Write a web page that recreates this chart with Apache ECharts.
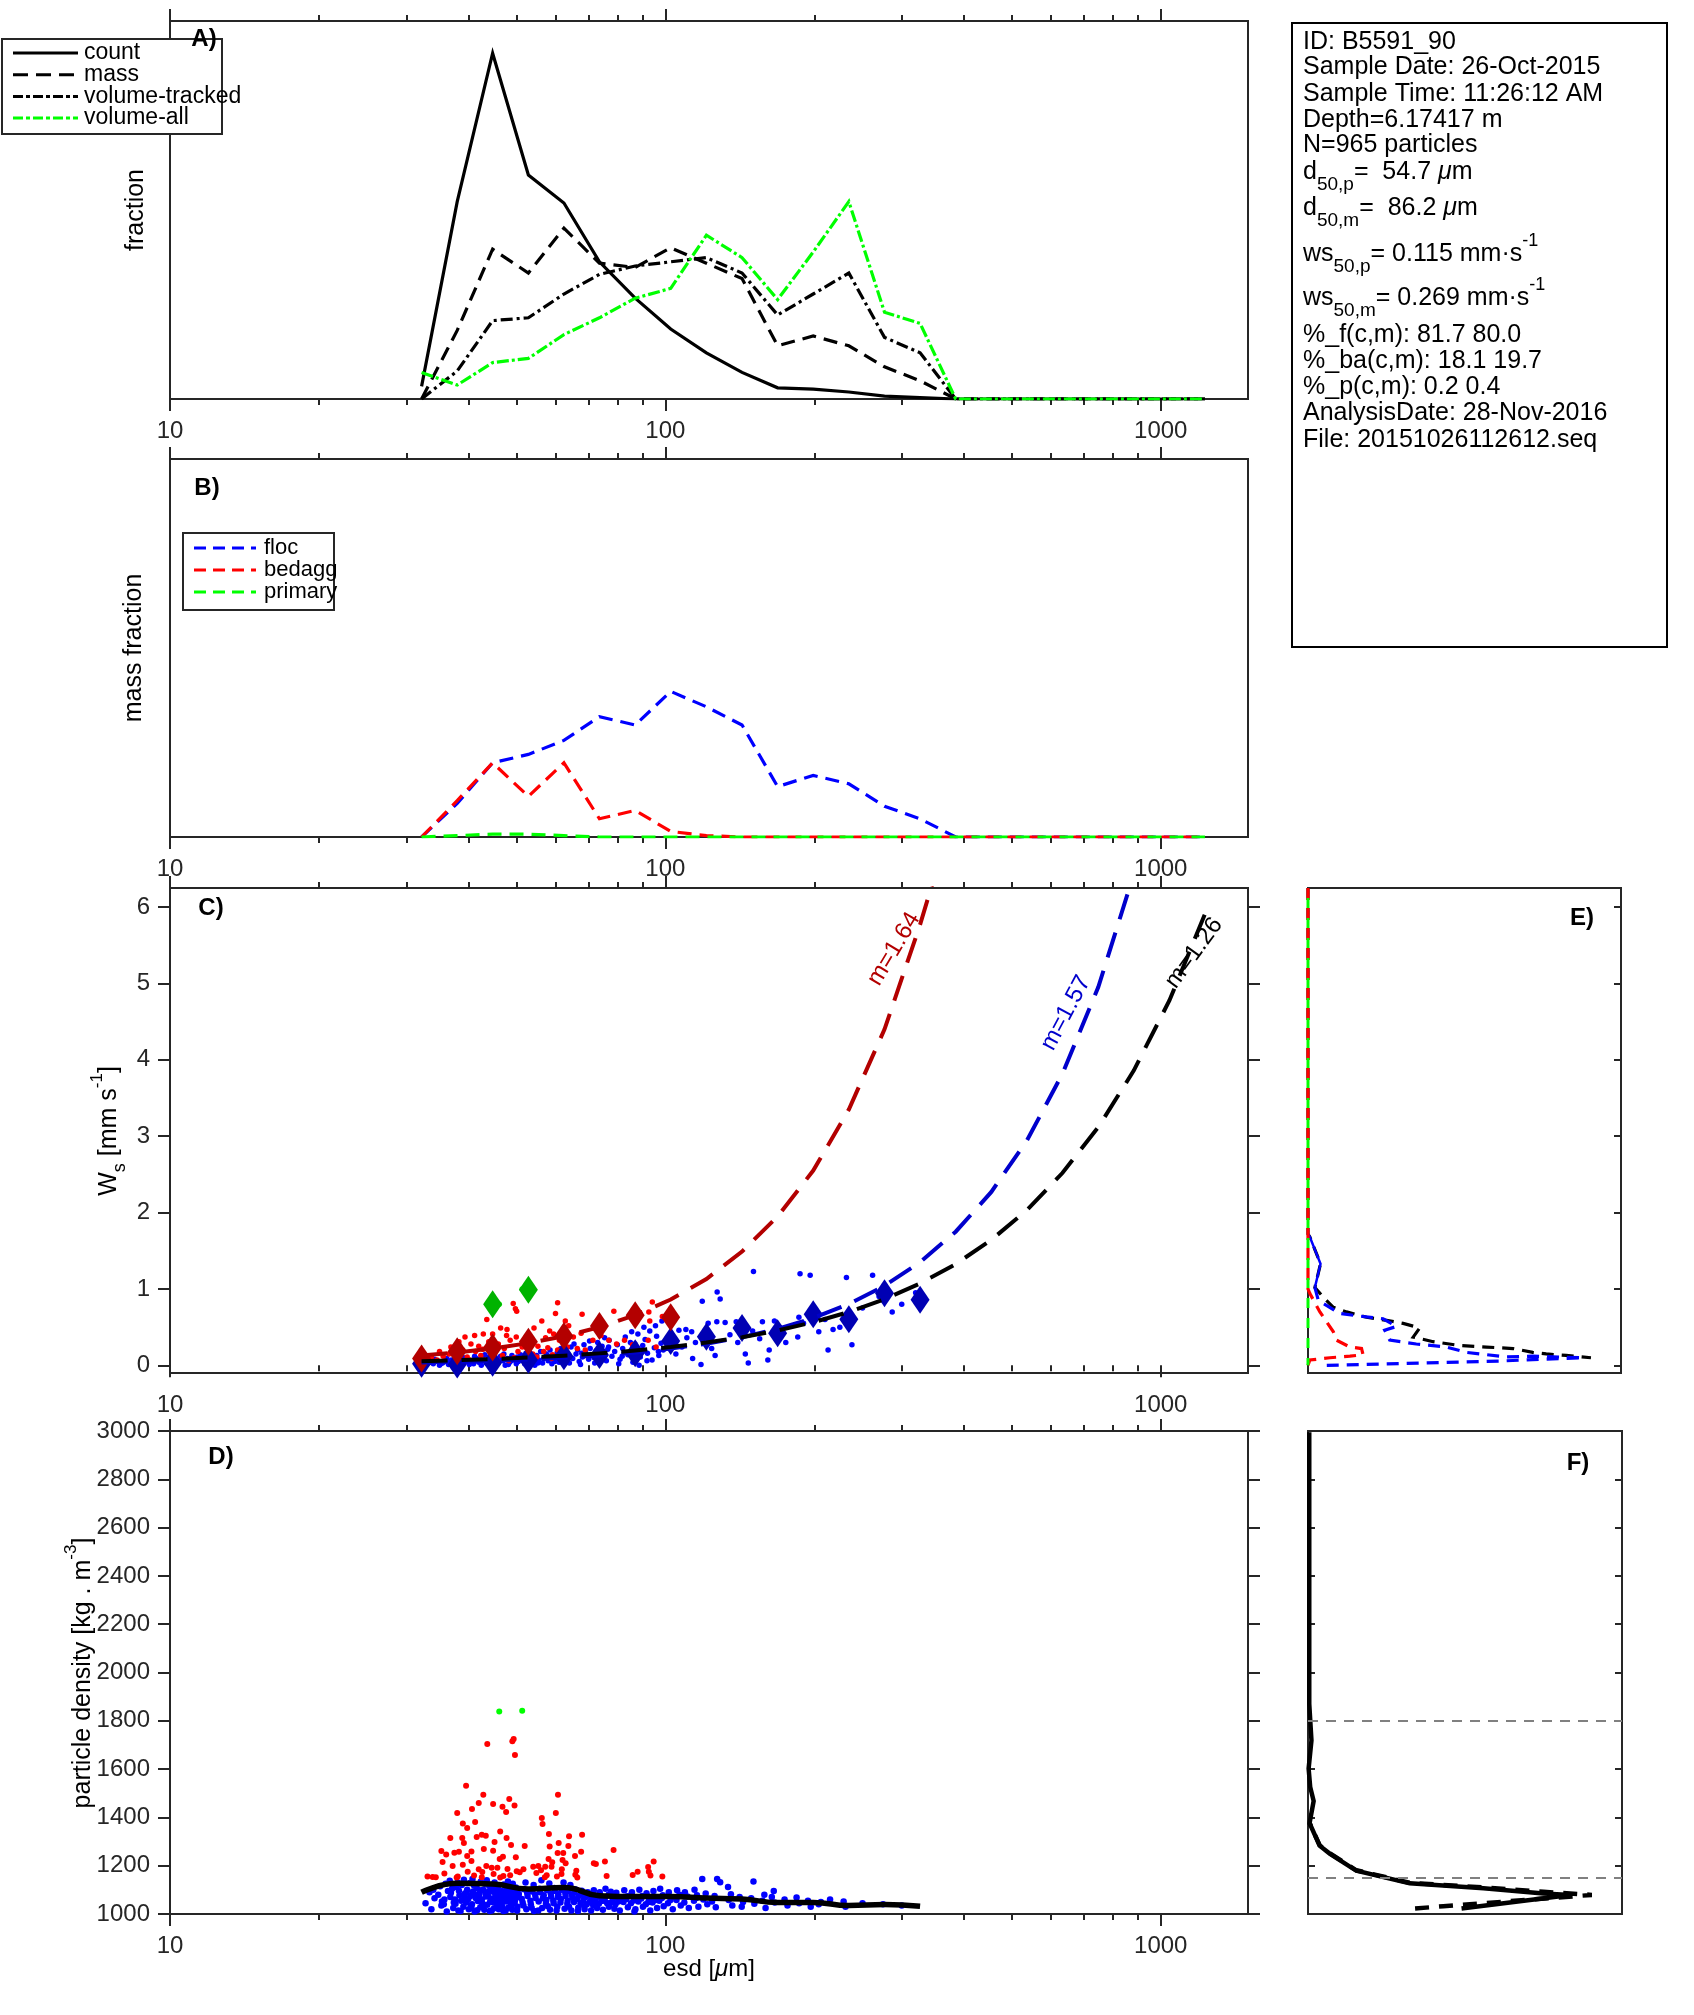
<!DOCTYPE html>
<html><head><meta charset="utf-8">
<script src="https://cdn.jsdelivr.net/npm/echarts@6/dist/echarts.min.js"></script>
<style>html,body{margin:0;padding:0;background:#fff}#c{width:1694px;height:2015px}</style>
</head><body><div id="c"></div>
<script>
// ---------------- DATA ----------------
const esdBins = [32.2,38.0,44.8,52.9,62.4,73.6,86.9,102.5,121.0,142.8,168.5,198.8,234.6,276.9,326.7,385.5,455,537,633,748,882,1041,1228];
// Panel A (fraction)
const fracCount      = [0.009,0.141,0.247,0.160,0.140,0.098,0.072,0.050,0.033,0.019,0.008,0.007,0.005,0.002,0.001,0,0,0,0,0,0,0,0];
const fracMass       = [0,0.049,0.107,0.090,0.122,0.097,0.094,0.108,0.097,0.086,0.038,0.045,0.038,0.023,0.013,0,0,0,0,0,0,0,0];
const fracVolTracked = [0,0.020,0.056,0.058,0.075,0.089,0.095,0.098,0.101,0.090,0.060,0.075,0.090,0.044,0.033,0,0,0,0,0,0,0,0];
const fracVolAll     = [0.019,0.010,0.026,0.029,0.046,0.058,0.072,0.079,0.117,0.101,0.071,0.105,0.141,0.062,0.054,0,0,0,0,0,0,0,0];
// Panel B (mass fraction)
const massFloc    = [0,0.024,0.053,0.059,0.069,0.086,0.080,0.104,0.093,0.080,0.036,0.044,0.038,0.022,0.013,0,0,0,0,0,0,0,0];
const massBedagg  = [0,0.026,0.053,0.029,0.053,0.013,0.019,0.004,0.001,0,0,0,0,0,0,0,0,0,0,0,0,0,0];
const massPrimary = [0,0.001,0.002,0.002,0.001,0,0,0,0,0,0,0,0,0,0,0,0,0,0,0,0,0,0];
// Panel C: bin medians of settling velocity (mm/s)
const wsMedFloc   = [0.02,0.01,0.035,0.075,0.12,0.135,0.16,0.32,0.375,0.49,0.42,0.67,0.605,0.945,0.86];
const wsMedBedagg = [0.09,0.185,0.235,0.31,0.385,0.515,0.655,0.63];
const esdMedPrimary = [44.8,52.9];
const wsMedPrimary  = [0.80,0.99];
// Panel C: fitted curves read at the bins
const wsFitBedagg = [0.129,0.170,0.222,0.291,0.382,0.50,0.658,0.862,1.13,1.49,1.95,2.55,3.35,4.40,5.77,7.33];
const wsFitFloc   = [0.036,0.046,0.060,0.077,0.100,0.130,0.169,0.219,0.284,0.368,0.478,0.619,0.803,1.042,1.351,1.750,2.271,2.946,3.816,4.953,6.43];
const wsFitAll    = [0.054,0.067,0.083,0.102,0.127,0.157,0.194,0.240,0.298,0.368,0.456,0.564,0.699,0.866,1.072,1.326,1.643,2.035,2.518,3.119,3.859,4.777,5.910];
const fitLabels = ['m=1.64','m=1.57','m=1.26'];
// Panel C: particles [esd, ws]
const flocPtsC = [[33,0.01],[33.5,0.04],[34,0.02],[34.5,0.06],[35,0.0],[35.5,0.03],[36,0.05],[36.5,0.01],[37,0.07],[37.5,0.03],[38,0.0],[38.5,0.05],[39,0.02],[39.5,0.08],[40,0.04],[40.2,0.01],[36.2,0.09],[38.2,0.06],[34.2,0.08],[39.2,0.10],
[40.5,0.06],[41,0.02],[41.5,0.09],[42,0.04],[42.5,0.0],[43,0.07],[43.5,0.03],[44,0.11],[44.5,0.05],[45,0.01],[45.5,0.08],[46,0.03],[46.5,0.12],[47,0.06],[47.5,0.0],[48,0.09],[48.5,0.04],[49,0.13],[49.5,0.07],[50,0.02],[41.2,0.12],[43.2,0.14],[45.2,0.13],[47.2,0.15],[49.2,0.1],[42.2,0.08],[44.2,0.02],[46.2,0.06],[48.2,0.01],[50.2,0.11],
[50.5,0.05],[51,0.14],[51.5,0.08],[52,0.02],[52.5,0.11],[53,0.17],[53.5,0.05],[54,0.09],[54.5,0.0],[55,0.13],[55.5,0.07],[56,0.18],[56.5,0.03],[57,0.1],[57.5,0.15],[58,0.06],[58.5,0.2],[59,0.02],[59.5,0.12],[60,0.08],[60.5,0.17],[61,0.04],[61.5,0.22],[62,0.1],[52.3,0.16],[55.3,0.03],[58.3,0.12],[61.3,0.14],
[62.5,0.06],[63,0.18],[63.5,0.12],[64,0.03],[64.5,0.24],[65,0.09],[66,0.15],[66.5,0.2],[67,0.05],[68,0.11],[68.5,0.27],[69,0.17],[70,0.08],[70.5,0.22],[71,0.13],[72,0.03],[72.5,0.19],[73,0.3],[74,0.1],[74.5,0.25],[75,0.15],[76,0.06],[76.5,0.21],[77,0.33],[78,0.12],[65.4,0.28],[70.3,0.32],[75.4,0.36],[67.4,0.01],[73.4,0.04],
[79,0.18],[80,0.27],[81,0.08],[82,0.22],[83,0.37],[84,0.14],[85,0.3],[86,0.04],[87,0.2],[88,0.41],[89,0.11],[90,0.26],[91,0.34],[92,0.16],[93,0.45],[94,0.07],[95,0.23],[96,0.38],[97,0.13],[98,0.29],[80.5,0.02],[85.5,0.44],[90.5,0.5],[95.5,0.52],[88.5,0.0],
[33.8,0.05],[35.2,0.02],[36.8,0.04],[38.8,0.03],[40.8,0.05],[42.8,0.06],[44.8,0.04],[46.8,0.09],[48.8,0.06],[50.8,0.1],[53.8,0.12],[56.8,0.09],[59.8,0.05],[63.8,0.14],[67.8,0.16],[71.8,0.1],[76.8,0.24],[81.8,0.12],[86.8,0.28],[91.8,0.06],[96.8,0.18],
[98.4,0.58],[99.5,0.64],[99,0.2],[104,0.33],[106.5,0.46],[108,0.24],[110,0.47],[113,0.44],[113.5,0.09],[118,0.01],[118.7,0.84],[122,0.55],[126,0.13],[127.2,0.96],[127,0.57],[129,0.87],[132,0.56],[139,0.57],[145,0.15],[147,0.03],[150.6,1.23],[157,0.57],[161,0.07],[162,0.2],[166,0.58],[185,0.37],[186,0.63],[187,1.2],[196,1.18],[204,0.44],[213,0.2],[218,0.47],[232,1.15],[238,0.27],[262,1.18],[287,0.7],[102,0.28],[105,0.15],[110.5,0.36],[115,0.3],[120,0.4],[124,0.22],[135,0.4],[140,0.3],[150,0.45],[155,0.35],[170,0.5],[175,0.3],[190,0.55],[200,0.65],[210,0.6],[225,0.5],[250,0.75],[270,0.9],[300,0.8],[320,0.95]];
const bedaggPtsC = [[43.6,0.60],[49.3,0.81],[49.8,0.74],[50.1,0.71],[60.6,0.82],[60.0,0.68],[67.9,0.67],[78.7,0.71],[94.1,0.83],[92.6,0.70],[93.0,0.58],[98.6,0.64],[46.5,0.49],[47.9,0.47],[56.3,0.58],[62.8,0.58],[63.8,0.52],[58.4,0.45],
[39.4,0.37],[41.2,0.39],[42.9,0.41],[44.8,0.41],[47.8,0.39],[50.0,0.37],[51.9,0.33],[54.3,0.49],[57.3,0.36],[59.5,0.41],[61.1,0.33],[65.2,0.37],[67.6,0.42],[71.4,0.33],[74.1,0.39],[76.9,0.33],[79.7,0.28],[82.7,0.33],[85.8,0.27],[92.3,0.33],[95.8,0.24],
[36.9,0.24],[38.3,0.31],[40.5,0.28],[42.0,0.25],[44.0,0.31],[46.0,0.28],[48.6,0.33],[51.4,0.24],[53.3,0.28],[55.3,0.25],[57.9,0.23],[60.6,0.20],[63.4,0.24],[66.4,0.22],[68.9,0.20],
[35.0,0.18],[36.6,0.15],[39.0,0.20],[41.4,0.18],[42.8,0.21],[45.2,0.16],[47.3,0.22],[50.4,0.18],[54.0,0.15],[56.8,0.18],[59.2,0.14],[62.5,0.16],[69.2,0.13],[74.4,0.15],
[33.7,0.11],[35.6,0.12],[37.6,0.13],[39.8,0.11],[42.4,0.13],[44.4,0.11],[46.9,0.13],[49.5,0.10],[52.3,0.13],[55.0,0.11],[58.9,0.09],
[33.1,0.07],[34.6,0.07],[40.3,0.07],[43.2,0.07],[45.7,0.07],[48.3,0.06]];
const primaryPtsC = [[46.2,0.80],[51.4,1.00]];
// Panel D: particles [esd, density]
const flocPtsD = [[32.8,1045],[33.4,1090],[33.7,1020],[34.2,1065],[34.0,1100],[35.3,1035],[34.8,1080],[35.1,1115],[35.4,1052],
[36.2,1010],[35.8,1060],[36.4,1095],[36.0,1125],[35.7,1040],[37.3,1025],[36.8,1070],[37.1,1105],[36.7,1138],[37.4,1048],[36.9,1088],
[38.2,1015],[37.7,1042],[38.4,1078],[37.9,1112],[38.1,1130],[37.6,1060],[38.3,1096],[39.1,1030],[38.7,1055],[39.4,1085],[38.8,1120],[39.2,1142],[38.6,1012],[39.3,1068],
[40.1,1020],[39.6,1048],[40.4,1075],[39.8,1100],[40.3,1128],[40.0,1062],[39.7,1090],[40.5,1035],[41.2,1010],[40.7,1040],[41.4,1066],[40.9,1093],[41.1,1118],[40.8,1145],[41.3,1080],[40.6,1026],
[42.3,1028],[41.8,1054],[42.1,1083],[41.6,1108],[42.4,1135],[41.7,1016],[42.0,1070],[42.2,1098],[43.1,1018],[42.7,1045],[43.4,1072],[42.9,1100],[43.2,1125],[42.6,1060],[43.3,1088],[42.8,1035],
[44.2,1012],[43.7,1038],[44.4,1064],[43.9,1091],[44.1,1116],[43.6,1140],[44.3,1052],[43.8,1078],[45.1,1024],[44.7,1050],[45.4,1077],[44.8,1104],[45.2,1130],[44.6,1015],[45.3,1066],[44.9,1092],
[46.2,1033],[45.7,1058],[46.4,1085],[45.9,1112],[46.1,1020],[45.6,1045],[46.3,1072],[45.8,1098],[47.1,1012],[46.7,1040],[47.4,1068],[46.8,1095],[47.2,1122],[46.6,1054],[47.3,1082],[46.9,1028],
[48.2,1026],[47.7,1052],[48.4,1079],[47.9,1106],[48.1,1135],[47.6,1015],[48.3,1064],[47.8,1090],[49.1,1018],[48.7,1044],[49.4,1071],[48.8,1098],[49.2,1125],[48.6,1058],[49.3,1085],[48.9,1032],
[50.3,1030],[49.7,1056],[50.6,1083],[49.9,1110],[50.2,1014],[49.6,1045],[50.5,1070],[50.0,1096],[52.4,1020],[51.5,1048],[52.7,1075],[51.8,1102],[52.2,1130],[51.3,1062],[52.6,1088],[51.7,1035],
[54.3,1012],[53.5,1040],[54.7,1066],[53.8,1093],[54.2,1120],[53.4,1055],[54.6,1080],[53.7,1026],[56.4,1025],[55.5,1052],[56.8,1078],[55.7,1105],[56.2,1140],[55.4,1015],[56.6,1065],[55.9,1090],
[58.5,1018],[57.4,1045],[58.8,1072],[57.7,1099],[58.3,1126],[57.5,1058],[58.7,1085],[57.9,1032],[60.5,1030],[59.4,1056],[60.8,1082],[59.7,1108],[60.3,1014],[59.5,1044],[60.7,1070],[59.9,1095],
[62.6,1022],[61.4,1048],[62.9,1075],[61.7,1100],[62.3,1130],[61.5,1062],[62.8,1088],[64.6,1015],[63.4,1042],[64.9,1068],[63.7,1094],[64.3,1120],[63.5,1055],[64.8,1080],[63.9,1030],
[66.7,1026],[65.4,1050],[66.9,1076],[65.7,1102],[66.3,1062],[65.5,1088],[66.6,1012],[68.7,1020],[67.4,1045],[68.9,1070],[67.8,1096],[68.3,1058],[67.5,1082],[68.6,1032],
[70.8,1015],[69.4,1040],[70.9,1065],[69.7,1090],[70.4,1052],[69.5,1078],[72.8,1025],[71.4,1048],[72.9,1072],[71.7,1098],[72.3,1060],[71.5,1036],
[74.8,1018],[73.4,1042],[74.9,1066],[73.7,1090],[74.3,1054],[73.5,1078],[76.9,1030],[75.4,1055],[76.8,1080],[75.7,1105],[76.3,1045],[75.5,1068],
[78.9,1022],[77.4,1046],[78.7,1070],[77.6,1092],[78.3,1058],[80.9,1015],[79.3,1040],[80.8,1064],[79.6,1088],[80.4,1052],[79.5,1076],
[84.0,1028],[82.3,1050],[83.8,1074],[82.6,1098],[83.4,1062],[87.0,1020],[85.2,1044],[86.8,1068],[85.6,1090],[86.3,1056],[85.4,1080],[86.6,1010],
[90.1,1030],[88.2,1052],[89.8,1075],[88.6,1100],[89.4,1064],[93.2,1015],[91.3,1040],[92.8,1062],[91.6,1086],[92.4,1050],
[96.2,1025],[94.2,1048],[95.8,1070],[94.6,1095],[95.4,1058],[99.2,1032],[97.2,1055],[98.8,1078],[97.6,1105],[98.4,1066],
[103.5,1020],[101.2,1045],[102.8,1068],[101.6,1090],[102.4,1058],[107.4,1035],[105.3,1058],[106.8,1080],[105.6,1098],
[111.5,1025],[109.2,1048],[110.8,1072],[109.5,1090],[116.6,1030],[114.2,1055],[115.8,1078],[114.5,1100],[115.4,1066],
[121.5,1040],[119.3,1060],[120.6,1085],[118.7,1145],[126.4,1028],[124.2,1052],[125.7,1075],[127.2,1145],[129.0,1131],
[136.5,1035],[134.2,1058],[135.6,1082],[133.8,1112],[143.5,1050],[141.2,1070],[142.6,1030],[151.2,1042],[149.0,1065],[150.6,1135],
[159.3,1025],[157.0,1055],[158.4,1080],[166.2,1048],[164.0,1070],[165.5,1095],[176.4,1035],[174.0,1060],[186.2,1045],[184.0,1068],
[196.5,1030],[194.0,1055],[206.0,1050],[204.0,1040],[215.0,1060],[231.0,1030],[229.0,1052],[250.0,1045],[275.0,1040],[300.0,1035]];
const bedaggPtsD = [[39.6,1531],[42.9,1494],[43.7,1704],[49.1,1715],[49.4,1725],[49.7,1658],[48.4,1476],[49.6,1449],[44.9,1455],[42.0,1460],[40.7,1435],[47.7,1422],[46.9,1444],[60.7,1494],[60.1,1418],[56.3,1397],[56.5,1373],
[38.0,1418],[39.0,1375],[39.8,1356],[41.3,1381],[36.8,1315],[38.9,1315],[39.2,1294],[41.6,1319],[42.6,1328],[43.4,1324],[46.4,1342],[47.8,1315],[45.2,1298],[48.8,1286],[52.0,1282],[58.2,1331],[60.9,1294],[63.9,1322],[67.9,1328],[58.4,1280],[63.7,1282],[67.6,1258],[78.6,1265],
[35.3,1261],[36.1,1246],[37.5,1254],[38.3,1258],[40.6,1259],[39.8,1240],[43.0,1269],[44.9,1262],[46.3,1228],[47.0,1237],[49.9,1235],[60.6,1253],[62.2,1253],[65.7,1240],[58.1,1228],[59.1,1214],[62.0,1224],[62.9,1210],
[35.5,1215],[37.2,1199],[39.0,1204],[40.6,1219],[42.0,1185],[43.5,1199],[44.6,1192],[45.8,1192],[48.0,1186],[50.8,1173],[54.1,1196],[55.4,1199],[57.2,1196],[58.9,1196],[61.8,1185],[66.1,1179],[71.7,1210],[72.4,1207],[75.5,1217],
[35.8,1168],[38.1,1155],[39.9,1175],[41.1,1159],[42.7,1174],[45.0,1166],[47.1,1157],[48.6,1160],[50.1,1177],[51.7,1185],[54.9,1170],[56.1,1181],[57.6,1160],[60.4,1155],[61.7,1166],[65.8,1163],[76.1,1157],[85.9,1161],[87.9,1175],[92.3,1195],[94.7,1217],[92.6,1175],[93.3,1159],[98.6,1155],
[33.1,1155],[33.9,1153],[34.4,1152],[37.9,1151],[42.6,1152],[46.4,1151],[57.1,1152],[66.4,1151]];
const primaryPtsD = [[46.2,1838],[51.4,1842]];
const rhoMean = [1090,1127,1124,1104,1110,1076,1072,1072,1066,1062,1048,1048,1035,1039,1032];
// Panel E: distributions of settling velocity [fraction, ws]
const eAllDashed  = [[0,6.25],[0,1.72],[0.006,1.68],[0.04,1.33],[0.022,1.02],[0.054,0.87],[0.081,0.76],[0.123,0.70],[0.187,0.63],[0.251,0.59],[0.304,0.55],[0.357,0.49],[0.336,0.37],[0.40,0.31],[0.485,0.26],[0.57,0.24],[0.655,0.22],[0.718,0.17],[0.761,0.15],[0.825,0.13],[0.904,0.10]];
const eFlocSolid  = [[0,1.72],[0.006,1.68],[0.04,1.33],[0.022,1.02]];
const eFlocDashed = [[0.022,1.02],[0.033,0.85],[0.102,0.68],[0.155,0.65],[0.24,0.61],[0.283,0.51],[0.245,0.46],[0.261,0.33],[0.346,0.28],[0.442,0.24],[0.506,0.17],[0.57,0.14],[0.633,0.11],[0.718,0.12],[0.878,0.10],[0.612,0.057],[0.06,0.0]];
const eBedaggDashed = [[0,6.25],[0,1.0],[0.006,0.94],[0.038,0.70],[0.081,0.44],[0.091,0.33],[0.134,0.24],[0.171,0.22],[0.176,0.14],[0.134,0.12],[0.07,0.10],[0.006,0.07],[0,0.0]];
const ePrimaryDashed = [[0,6.25],[0,0]];
// Panel F: distributions of density [fraction, density]
const fSolid  = [[0.004,2995],[0.004,1870],[0.011,1719],[0.002,1602],[0.007,1526],[0.018,1468],[0.005,1376],[0.037,1283],[0.069,1250],[0.154,1179],[0.324,1127],[0.559,1107],[0.75,1085],[0.835,1079],[0.489,1023]];
const fDashed = [[0.341,1023],[0.431,1032],[0.904,1079],[0.75,1092],[0.559,1110],[0.324,1129],[0.154,1181],[0.069,1252],[0.037,1285],[0.005,1377]];
const densityLimits = [1800,1150];
// Axes ticks
const xMajor = [10,100,1000];
const xMinor = [20,30,40,50,60,70,80,90,200,300,400,500,600,700,800,900];
const wsTicks = [0,1,2,3,4,5,6];
// Info text
const infoLines = [
 'ID: B5591_90','Sample Date: 26-Oct-2015','Sample Time: 11:26:12 AM','Depth=6.17417 m','N=965 particles',
 'd{sub|50,p}=  54.7 {mu|μ}m','d{sub|50,m}=  86.2 {mu|μ}m',
 'ws{sub|50,p}= 0.115 mm·s{sup|-1}','ws{sub|50,m}= 0.269 mm·s{sup|-1}',
 '%_f(c,m): 81.7 80.0','%_ba(c,m): 18.1 19.7','%_p(c,m): 0.2 0.4','AnalysisDate: 28-Nov-2016','File: 20151026112612.seq'];

// ---------------- CHART ----------------
const FONT = '"Liberation Sans", Arial, Helvetica, sans-serif';
const AX = '#262626';
const zip = (xs, ys) => ys.map((y, i) => [xs[i], y]);
const gridBase = {show:true, borderColor:AX, borderWidth:2, backgroundColor:'rgba(0,0,0,0)', containLabel:false, outerBoundsMode:'none'};
const grids = [
  {left:170, top:21, width:1078, height:378},
  {left:170, top:459, width:1078, height:378},
  {left:170, top:888, width:1078, height:485},
  {left:170, top:1431, width:1078, height:483},
  {left:1308, top:888, width:313, height:485},
  {left:1308, top:1431, width:314, height:483}
].map(g => Object.assign({}, gridBase, g));

const tickLine = {color:AX, width:2};
function logAxes(gi) {
  const base = {type:'log', logBase:10, min:10, max:1500, gridIndex:gi, axisLine:{show:false}, splitLine:{show:false}, minorTick:{show:false}};
  return [
    Object.assign({}, base, {position:'bottom', axisTick:{show:true, customValues:xMajor, length:12, lineStyle:tickLine},
      axisLabel:{show:true, customValues:xMajor, margin:20, fontSize:24, color:AX, fontFamily:FONT, formatter:v=>String(Math.round(v))}}),
    Object.assign({}, base, {position:'bottom', axisTick:{show:true, customValues:xMinor, length:6, lineStyle:tickLine}, axisLabel:{show:false}}),
    Object.assign({}, base, {position:'top', axisTick:{show:true, customValues:xMajor, length:12, lineStyle:tickLine}, axisLabel:{show:false}}),
    Object.assign({}, base, {position:'top', axisTick:{show:true, customValues:xMinor, length:6, lineStyle:tickLine}, axisLabel:{show:false}})
  ];
}
const xAxis = [].concat(logAxes(0), logAxes(1), logAxes(2), logAxes(3), [
  {type:'value', gridIndex:4, min:0, max:1, show:false},
  {type:'value', gridIndex:5, min:0, max:1, show:false}
]);
const yAxis = [
  {type:'value', gridIndex:0, min:0, max:0.27, show:false},
  {type:'value', gridIndex:1, min:0, max:0.27, show:false},
  {type:'value', gridIndex:2, min:-0.1, max:6.25, position:'left', axisLine:{show:false}, splitLine:{show:false},
    axisTick:{show:true, customValues:wsTicks, length:12, lineStyle:tickLine},
    axisLabel:{show:true, customValues:wsTicks, margin:20, fontSize:24, color:AX, fontFamily:FONT, formatter:v=>String(v)}},
  {type:'value', gridIndex:2, min:-0.1, max:6.25, position:'right', axisLine:{show:false}, splitLine:{show:false},
    axisTick:{show:true, customValues:wsTicks, length:12, lineStyle:tickLine}, axisLabel:{show:false}},
  {type:'value', gridIndex:3, min:1000, max:3000, interval:200, position:'left', axisLine:{show:false}, splitLine:{show:false},
    axisTick:{show:true, length:12, lineStyle:tickLine},
    axisLabel:{show:true, margin:20, fontSize:24, color:AX, fontFamily:FONT, formatter:v=>String(v)}},
  {type:'value', gridIndex:3, min:1000, max:3000, interval:200, position:'right', axisLine:{show:false}, splitLine:{show:false},
    axisTick:{show:true, length:12, lineStyle:tickLine}, axisLabel:{show:false}},
  {type:'value', gridIndex:4, min:-0.1, max:6.25, show:false},
  {type:'value', gridIndex:4, min:-0.1, max:6.25, position:'right', axisLine:{show:false}, splitLine:{show:false},
    axisTick:{show:true, inside:true, customValues:wsTicks, length:7, lineStyle:tickLine}, axisLabel:{show:false}},
  {type:'value', gridIndex:5, min:1000, max:3000, interval:200, position:'left', axisLine:{show:false}, splitLine:{show:false},
    axisTick:{show:true, inside:true, length:7, lineStyle:tickLine}, axisLabel:{show:false}},
  {type:'value', gridIndex:5, min:1000, max:3000, interval:200, position:'right', axisLine:{show:false}, splitLine:{show:false},
    axisTick:{show:true, inside:true, length:7, lineStyle:tickLine}, axisLabel:{show:false}}
];

const DASH = [14,8], DASHDOT = [12,4,3,4], FITDASH = [26,14];
function line(xi, yi, data, color, width, type, extra) {
  return Object.assign({type:'line', xAxisIndex:xi, yAxisIndex:yi, data, symbol:'none', silent:true,
    lineStyle:{color, width, type, cap:'butt', join:'miter'}, itemStyle:{color}}, extra || {});
}
function scat(xi, yi, data, color, size, symbol, z) {
  return {type:'scatter', xAxisIndex:xi, yAxisIndex:yi, data, symbol:symbol||'circle', symbolSize:size, silent:true,
    itemStyle:{color, opacity:1}, z:z||2};
}
const DIAM = [19,28];
const series = [
  // A
  line(0,0, zip(esdBins, fracCount), '#000', 3.2, 'solid'),
  line(0,0, zip(esdBins, fracMass), '#000', 3.2, DASH),
  line(0,0, zip(esdBins, fracVolTracked), '#000', 3.2, DASHDOT),
  line(0,0, zip(esdBins, fracVolAll), '#00ff00', 3.2, [12,3,3,3]),
  // B
  line(4,1, zip(esdBins, massFloc), '#0000ff', 3.2, DASH),
  line(4,1, zip(esdBins, massBedagg), '#ff0000', 3.2, DASH),
  line(4,1, zip(esdBins, massPrimary), '#00ff00', 3.2, DASH),
  // C
  scat(8,2, flocPtsC, '#0000ff', 5.5),
  scat(8,2, bedaggPtsC, '#ff0000', 5.5),
  scat(8,2, primaryPtsC, '#00ff00', 5.5),
  scat(8,2, zip(esdBins, wsMedFloc), '#0000b3', DIAM, 'diamond', 3),
  scat(8,2, zip(esdBins, wsMedBedagg), '#b30000', DIAM, 'diamond', 3),
  scat(8,2, zip(esdMedPrimary, wsMedPrimary), '#00b300', DIAM, 'diamond', 3),
  line(8,2, zip(esdBins, wsFitBedagg), '#b30000', 4, FITDASH, {z:4}),
  line(8,2, zip(esdBins, wsFitFloc), '#0000cc', 4, FITDASH, {z:4}),
  line(8,2, zip(esdBins, wsFitAll), '#000', 4, FITDASH, {z:4}),
  // D
  scat(12,4, flocPtsD, '#0000ff', 6.5),
  scat(12,4, bedaggPtsD, '#ff0000', 6),
  scat(12,4, primaryPtsD, '#00ff00', 6),
  line(12,4, zip(esdBins, rhoMean), '#000', 5.5, 'solid', {smooth:0.5, z:4}),
  // E
  line(16,6, eAllDashed, '#000', 3.2, [12,8], {clip:false}),
  line(16,6, eFlocDashed, '#0000ff', 3.2, [12,8], {clip:false}),
  line(16,6, eFlocSolid, '#0000ff', 2.5, 'solid', {clip:false}),
  line(16,6, eBedaggDashed, '#ff0000', 3.2, [12,8], {clip:false}),
  line(16,6, ePrimaryDashed, '#00ff00', 3, [10,10], {clip:false, lineStyle:{color:'#00ff00', width:3, type:[10,10], dashOffset:10}}),
  // F
  line(17,8, fSolid, '#000', 4.5, 'solid', {clip:false, markLine:{silent:true, symbol:'none', label:{show:false},
      lineStyle:{color:'#808080', width:2, type:[10,8]}, data: densityLimits.map(v => ({yAxis:v}))}}),
  line(17,8, fDashed, '#000', 4.5, [14,10])
];

// --------- graphics (texts, legends, info box) ---------
const G = [];
function text(x, y, t, o) {
  o = o || {};
  G.push({type:'text', x, y, rotation:o.rot||0, z:100, silent:true,
    style:Object.assign({text:t, fill:o.fill||'#000', fontSize:o.size||24, fontFamily:FONT, fontWeight:o.weight||'normal',
      align:o.align||'left', textAlign:o.align||'left', verticalAlign:'middle', textVerticalAlign:'middle',
      lineHeight:o.lh||(o.size||24)}, o.style||{})});
}
// legend A
G.push({type:'rect', z:90, silent:true, shape:{x:2, y:39, width:220, height:95}, style:{fill:'#fff', stroke:AX, lineWidth:2}});
const legA = [['count','#000','solid'],['mass','#000',[15,8]],['volume-tracked','#000',[10,3,4,3]],['volume-all','#00ff00',[10,3,4,3]]];
legA.forEach((l, i) => {
  const y = 53 + i*21.7;
  G.push({type:'line', z:95, silent:true, shape:{x1:13, y1:y, x2:78, y2:y}, style:{stroke:l[1], lineWidth:3, lineDash:l[2]==='solid'?null:l[2]}});
  text(84, y, l[0], {size:23});
});
// legend B
G.push({type:'rect', z:90, silent:true, shape:{x:183, y:533, width:151, height:77}, style:{fill:'#fff', stroke:AX, lineWidth:2}});
const legB = [['floc','#0000ff'],['bedagg','#ff0000'],['primary','#00ff00']];
legB.forEach((l, i) => {
  const y = 548 + i*22;
  G.push({type:'line', z:95, silent:true, shape:{x1:194, y1:y, x2:256, y2:y}, style:{stroke:l[1], lineWidth:3, lineDash:[12,7]}});
  text(264, y, l[0], {size:22});
});
// panel letters
text(204, 39, 'A)', {weight:'bold', align:'center'});
text(207, 488, 'B)', {weight:'bold', align:'center'});
text(211, 908, 'C)', {weight:'bold', align:'center'});
text(221, 1457, 'D)', {weight:'bold', align:'center'});
text(1582, 918, 'E)', {weight:'bold', align:'center'});
text(1578, 1463, 'F)', {weight:'bold', align:'center'});
// axis titles
const richAx = {sub:{fontSize:18, fontFamily:FONT, verticalAlign:'bottom', lineHeight:40}, sup:{fontSize:17, fontFamily:FONT, verticalAlign:'top', lineHeight:40}};
text(136, 210, 'fraction', {rot:Math.PI/2, align:'center', size:25});
text(134, 648, 'mass fraction', {rot:Math.PI/2, align:'center', size:25});
text(109, 1131, 'W{sub|s} [mm s{sup|-1}]', {rot:Math.PI/2, align:'center', size:25, lh:40, style:{rich:richAx}});
text(83, 1673, 'particle density [kg . m{sup|-3}]', {rot:Math.PI/2, align:'center', size:25, lh:40, style:{rich:richAx}});
text(709, 1969, 'esd [{mu|μ}m]', {align:'center', size:24, style:{rich:{mu:{fontSize:24, fontStyle:'italic', fontFamily:FONT}}}});
// fitted-curve labels
text(894, 949, fitLabels[0], {rot:59*Math.PI/180, align:'center', size:24, fill:'#b30000'});
text(1066, 1013, fitLabels[1], {rot:62*Math.PI/180, align:'center', size:24, fill:'#0000cc'});
text(1194, 953, fitLabels[2], {rot:54*Math.PI/180, align:'center', size:24, fill:'#000'});
// info box
G.push({type:'rect', z:90, silent:true, shape:{x:1292, y:23, width:375, height:624}, style:{fill:'#fff', stroke:'#000', lineWidth:2}});
const infoY = [42,67,94,120,145,172,208,254,298,335,361,387,413,440];
const richInfo = {sub:{fontSize:19, fontFamily:FONT, verticalAlign:'bottom', lineHeight:44},
  sup:{fontSize:18, fontFamily:FONT, verticalAlign:'top', lineHeight:44},
  mu:{fontSize:25, fontStyle:'italic', fontFamily:FONT, lineHeight:44}};
infoLines.forEach((t, i) => text(1303, infoY[i], t, {size:25, lh:44, style:{rich:richInfo}}));

const chart = echarts.init(document.getElementById('c'), null, {renderer:'canvas'});
chart.setOption({animation:false, backgroundColor:'#fff', grid:grids, xAxis, yAxis, series, graphic:{elements:G}});
</script></body></html>
